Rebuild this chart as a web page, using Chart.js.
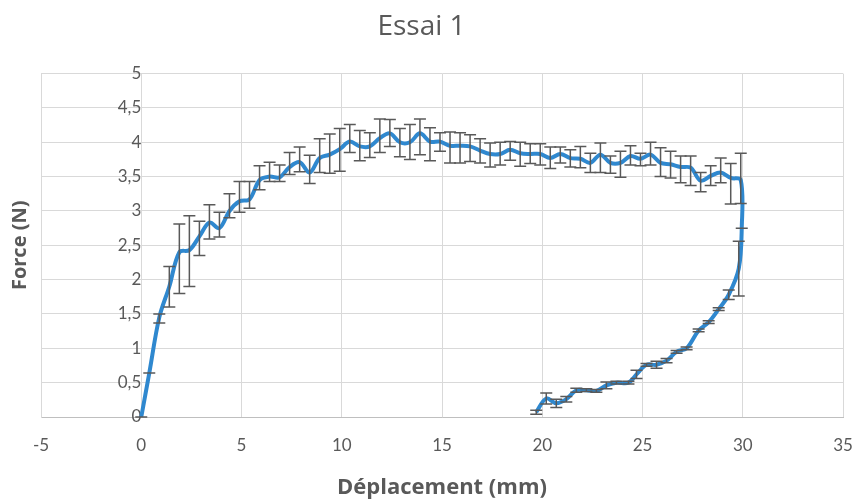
<!DOCTYPE html>
<html>
<head>
<meta charset="utf-8">
<script src="https://cdn.jsdelivr.net/npm/chart.js"></script>
<style>
  body { margin: 0; background: #fff; }
</style>
</head>
<body>
<canvas id="essai" width="857" height="502"></canvas>
<script>
// Essai 1 : force vs déplacement, charge puis décharge
const xs = [0, 0.4, 0.9, 1.4, 1.9, 2.4, 2.9, 3.4, 3.9, 4.4, 4.9, 5.4, 5.9, 6.4, 6.9, 7.4, 7.9, 8.4, 8.9, 9.4,
  9.9, 10.4, 10.9, 11.4, 11.9, 12.4, 12.9, 13.4, 13.9, 14.4, 14.9, 15.4, 15.9, 16.4, 16.9, 17.4, 17.9, 18.4, 18.9, 19.4,
  19.9, 20.4, 20.9, 21.4, 21.9, 22.4, 22.9, 23.4, 23.9, 24.4, 24.9, 25.4, 25.9, 26.4, 26.9, 27.4, 27.9, 28.4, 28.9, 29.4,
  29.9, 29.95, 29.8, 29.3, 28.8, 28.3, 27.8, 27.2, 26.7, 26.2, 25.7, 25.2, 24.7, 24.3, 23.7, 23.2, 22.7, 22.2, 21.7, 21.2,
  20.7, 20.2, 19.7];
const ys = [0, 0.64, 1.45, 1.9, 2.4, 2.43, 2.63, 2.83, 2.75, 3.0, 3.14, 3.17, 3.45, 3.5, 3.49, 3.64, 3.71, 3.56, 3.77, 3.82,
  3.9, 4.01, 3.94, 3.94, 4.06, 4.13, 4.0, 4.0, 4.13, 4.01, 4.01, 3.95, 3.95, 3.94, 3.88, 3.83, 3.83, 3.89, 3.84, 3.83,
  3.83, 3.77, 3.83, 3.77, 3.76, 3.7, 3.82, 3.7, 3.7, 3.8, 3.76, 3.82, 3.7, 3.68, 3.64, 3.63, 3.44, 3.51, 3.56, 3.48,
  3.45, 2.75, 2.16, 1.78, 1.57, 1.38, 1.26, 1.0, 0.95, 0.82, 0.76, 0.76, 0.62, 0.5, 0.5, 0.46, 0.38, 0.39, 0.39, 0.26,
  0.2, 0.27, 0.07];
const errPlus = [0, 0, 0.05, 0.29, 0.41, 0.5, 0.22, 0.26, 0.23, 0.25, 0.29, 0.26, 0.21, 0.21, 0.18, 0.21, 0.22, 0.25, 0.28, 0.3,
  0.3, 0.25, 0.23, 0.2, 0.28, 0.2, 0.2, 0.26, 0.21, 0.2, 0.13, 0.2, 0.19, 0.17, 0.17, 0.16, 0.17, 0.12, 0.16, 0.15,
  0.15, 0.16, 0.1, 0.12, 0.18, 0.14, 0.17, 0.1, 0.17, 0.15, 0.08, 0.18, 0.22, 0.19, 0.16, 0.17, 0.12, 0.15, 0.21, 0.21,
  0.39, 0, 0.4, 0.07, 0.02, 0.02, 0.02, 0.02, 0.02, 0.03, 0.05, 0.02, 0.06, 0.02, 0.02, 0.05, 0.02, 0.02, 0.03, 0.04,
  0.06, 0.08, 0.03];
const errMinus = [0, 0, 0.08, 0.3, 0.6, 0.53, 0.28, 0.24, 0.13, 0.1, 0.16, 0.13, 0.14, 0.07, 0.06, 0.11, 0.14, 0.16, 0.21, 0.27,
  0.32, 0.16, 0.21, 0.16, 0.21, 0.19, 0.21, 0.25, 0.31, 0.28, 0.14, 0.25, 0.25, 0.22, 0.18, 0.19, 0.16, 0.15, 0.19, 0.14,
  0.16, 0.15, 0.13, 0.13, 0.13, 0.14, 0.26, 0.15, 0.21, 0.13, 0.1, 0.15, 0.2, 0.2, 0.23, 0.26, 0.16, 0.14, 0.15, 0.38,
  0.34, 0, 0.4, 0.07, 0.02, 0.02, 0.02, 0.02, 0.02, 0.03, 0.05, 0.02, 0.06, 0.02, 0.02, 0.05, 0.02, 0.02, 0.03, 0.04,
  0.06, 0.08, 0.03];

const textColor = '#595959';
const gridColor = '#d9d9d9';
const fontFamily = 'Lato, "Open Sans", sans-serif';
const titleFamily = '"Open Sans", Lato, sans-serif';
const fmt = v => String(v).replace('.', ',');

// barres d'erreur dessinées à partir des échelles
const errorBars = {
  id: 'errorBars',
  afterDatasetsDraw(chart) {
    const { ctx, scales: { x, y } } = chart;
    ctx.save();
    ctx.strokeStyle = '#595959';
    ctx.lineWidth = 1.5;
    xs.forEach((v, i) => {
      const px = x.getPixelForValue(v);
      const top = y.getPixelForValue(ys[i] + errPlus[i]);
      const bot = y.getPixelForValue(ys[i] - errMinus[i]);
      ctx.beginPath();
      ctx.moveTo(px, top); ctx.lineTo(px, bot);
      ctx.moveTo(px - 6, top); ctx.lineTo(px + 6, top);
      ctx.moveTo(px - 6, bot); ctx.lineTo(px + 6, bot);
      ctx.stroke();
    });
    ctx.restore();
  }
};

new Chart(document.getElementById('essai'), {
  type: 'line',
  data: {
    datasets: [{
      data: xs.map((x, i) => ({ x, y: ys[i] })),
      borderColor: '#2f88cf',
      borderWidth: 4,
      pointRadius: 0,
      tension: 0.35,
      fill: false
    }]
  },
  options: {
    responsive: false,
    animation: false,
    layout: { padding: { left: 0, right: 14, top: 0, bottom: 0 } },
    plugins: {
      legend: { display: false },
      tooltip: { enabled: false },
      title: {
        display: true,
        text: 'Essai 1',
        color: textColor,
        font: { family: titleFamily, size: 28, weight: 'normal' },
        padding: { top: 10, bottom: 30 }
      }
    },
    scales: {
      x: {
        type: 'linear',
        min: -5, max: 35,
        ticks: { stepSize: 5, color: textColor, font: { family: fontFamily, size: 17 }, padding: 18, callback: fmt },
        grid: { color: gridColor, drawTicks: false },
        border: { color: '#bfbfbf' },
        title: { display: true, text: 'Déplacement (mm)', color: textColor,
          font: { family: titleFamily, size: 22, weight: 'bold' }, padding: { top: 0, bottom: 1 } },
        afterFit(scale) { scale.height = 85; scale.paddingLeft = 0; scale.paddingRight = 0; }
      },
      y: {
        min: 0, max: 5,
        ticks: { display: false, stepSize: 0.5 },
        grid: { color: gridColor, drawTicks: false },
        border: { color: gridColor },
        title: { display: true, text: 'Force (N)', color: textColor,
          font: { family: titleFamily, size: 20, weight: 'bold' }, padding: { top: 8, bottom: 0 } },
        afterFit(scale) { scale.width = 41; }
      },
      yLabels: {
        position: { x: 0 },
        min: 0, max: 5,
        ticks: { stepSize: 0.5, color: textColor, font: { family: fontFamily, size: 17 }, padding: 6, callback: fmt },
        grid: { display: false, drawTicks: false },
        border: { display: false }
      }
    }
  },
  plugins: [errorBars]
});
</script>
</body>
</html>
